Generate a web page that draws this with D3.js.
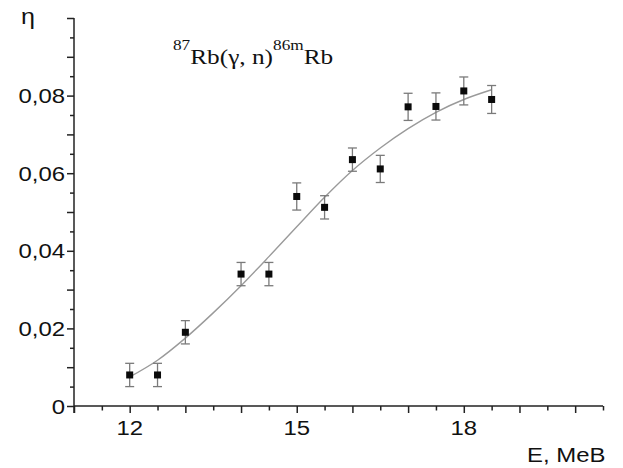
<!DOCTYPE html>
<html>
<head>
<meta charset="utf-8">
<script src="https://cdn.jsdelivr.net/npm/d3@7/dist/d3.min.js"></script>
<style>
  html, body { margin: 0; padding: 0; background: #fff; }
  svg { display: block; }
</style>
</head>
<body>
<svg id="chart" width="623" height="468"></svg>
<script>
// Measured yield of 87Rb(γ,n)86mRb vs. photon energy
const energy = [12, 12.5, 13, 14, 14.5, 15, 15.5, 16, 16.5, 17, 17.5, 18, 18.5];
const eta    = [0.008, 0.008, 0.019, 0.034, 0.034, 0.054, 0.0512, 0.0635, 0.0611, 0.0771, 0.0772, 0.0812, 0.079];
const etaErr = [0.003, 0.003, 0.003, 0.003, 0.003, 0.0035, 0.003, 0.003, 0.0035, 0.0035, 0.0035, 0.0036, 0.0036];

// Smooth fitted curve
const fitE   = [12, 12.5, 13, 13.5, 14, 14.5, 15, 15.5, 16, 16.5, 17, 17.5, 18, 18.5];
const fitEta = [0.0075, 0.0118, 0.0175, 0.024, 0.031, 0.0385, 0.0462, 0.0538, 0.0607, 0.0665, 0.0715, 0.0757, 0.079, 0.0815];

// Axis ticks
const xMajor  = [11, 12, 13, 14, 15, 16, 17, 18, 19, 20];
const xMinor  = [11.5, 12.5, 13.5, 14.5, 15.5, 16.5, 17.5, 18.5, 19.5, 20.5];
const xLabels = [12, 15, 18];
const yMajor  = [0, 0.01, 0.02, 0.03, 0.04, 0.05, 0.06, 0.07, 0.08, 0.09, 0.1];
const yMinor  = [0.005, 0.015, 0.025, 0.035, 0.045, 0.055, 0.065, 0.075, 0.085, 0.095];
const yLabels = [0, 0.02, 0.04, 0.06, 0.08];

const svg = d3.select("#chart");
const plotLeft = 74, plotRight = 603, plotTop = 18, plotBottom = 406;
const stretch = 1.14;
const sans = "'Liberation Sans', Arial, sans-serif";

const x = d3.scaleLinear().domain([11, 20.5]).range([plotLeft, plotRight]);
const y = d3.scaleLinear().domain([0, 0.1]).range([plotBottom, plotTop]);

const axisColor = "#222";
const fmtY = d => d === 0 ? "0" : d3.format(".2f")(d).replace(".", ",");

// y axis: long ticks every 0.01, short ones between
const gy = svg.append("g").attr("transform", `translate(${plotLeft},0)`);
gy.append("g").call(d3.axisLeft(y).tickValues(yMajor).tickSize(7).tickFormat(""));
gy.append("g").call(d3.axisLeft(y).tickValues(yMinor).tickSize(4).tickFormat(""));
gy.selectAll(".domain").remove();
gy.append("line").attr("x1", 0).attr("x2", 0).attr("y1", y(0.1)).attr("y2", plotBottom + 7);
gy.selectAll("line").attr("stroke", axisColor).attr("stroke-width", 1.5);

// x axis: long ticks on integers, short ones on halves
const gx = svg.append("g").attr("transform", `translate(0,${plotBottom})`);
gx.append("g").call(d3.axisBottom(x).tickValues(xMajor).tickSize(7).tickFormat(""));
gx.append("g").call(d3.axisBottom(x).tickValues(xMinor).tickSize(4.5).tickFormat(""));
gx.selectAll(".domain").remove();
gx.append("line").attr("x1", plotLeft).attr("x2", x(20.5)).attr("y1", 0).attr("y2", 0);
gx.selectAll("line").attr("stroke", axisColor).attr("stroke-width", 1.5);

// Tick labels (slightly wide sans face)
svg.append("g").selectAll("text").data(yLabels).join("text")
  .attr("transform", d => `translate(${plotLeft - 9},${y(d) + 7.5}) scale(${stretch},1)`)
  .attr("text-anchor", "end")
  .attr("font-family", sans).attr("font-size", 21).attr("fill", "#111")
  .text(fmtY);

svg.append("g").selectAll("text").data(xLabels).join("text")
  .attr("transform", d => `translate(${x(d)},${plotBottom + 29}) scale(${stretch},1)`)
  .attr("text-anchor", "middle")
  .attr("font-family", sans).attr("font-size", 21).attr("fill", "#111")
  .text(d => d);

// Axis titles
svg.append("text")
  .attr("transform", `translate(21,24) scale(${stretch},1)`)
  .attr("font-family", sans).attr("font-size", 22).attr("fill", "#111")
  .text("η");

svg.append("text")
  .attr("transform", `translate(527,462) scale(${stretch},1)`)
  .attr("font-family", sans).attr("font-size", 21).attr("fill", "#111")
  .text("E, MeB");

// Reaction label
const title = svg.append("text")
  .attr("transform", "translate(173,64) scale(1.15,1)")
  .attr("font-family", "'Liberation Serif', 'Times New Roman', serif")
  .attr("font-size", 22).attr("fill", "#111");
title.append("tspan").attr("font-size", 15).attr("dy", -14).text("87");
title.append("tspan").attr("dy", 14).text("Rb(γ, n)");
title.append("tspan").attr("font-size", 15).attr("dy", -14).text("86m");
title.append("tspan").attr("dy", 14).text("Rb");

// Fitted curve
const line = d3.line()
  .x((d, i) => x(fitE[i]))
  .y(d => y(d))
  .curve(d3.curveMonotoneX);
svg.append("path")
  .attr("d", line(fitEta))
  .attr("fill", "none")
  .attr("stroke", "#9a9a9a")
  .attr("stroke-width", 1.4);

// Error bars
const pts = energy.map((e, i) => ({ e, v: eta[i], err: etaErr[i] }));
const eb = svg.append("g").attr("stroke", "#7a7a7a").attr("stroke-width", 1.3);
eb.selectAll("line.v").data(pts).join("line").attr("class", "v")
  .attr("x1", d => x(d.e)).attr("x2", d => x(d.e))
  .attr("y1", d => y(d.v + d.err)).attr("y2", d => y(d.v - d.err));
eb.selectAll("line.t").data(pts).join("line").attr("class", "t")
  .attr("x1", d => x(d.e) - 4.5).attr("x2", d => x(d.e) + 4.5)
  .attr("y1", d => y(d.v + d.err)).attr("y2", d => y(d.v + d.err));
eb.selectAll("line.b").data(pts).join("line").attr("class", "b")
  .attr("x1", d => x(d.e) - 4.5).attr("x2", d => x(d.e) + 4.5)
  .attr("y1", d => y(d.v - d.err)).attr("y2", d => y(d.v - d.err));

// Data markers
const sz = 7;
svg.append("g").selectAll("rect").data(pts).join("rect")
  .attr("x", d => x(d.e) - sz / 2).attr("y", d => y(d.v) - sz / 2)
  .attr("width", sz).attr("height", sz)
  .attr("fill", "#0a0a0a");
</script>
</body>
</html>
